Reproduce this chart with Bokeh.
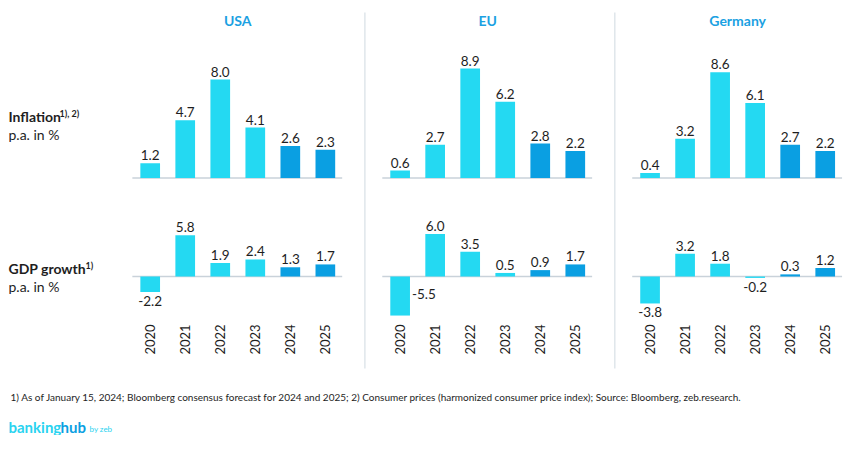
import math
from bokeh.plotting import figure
from bokeh.models import Range1d
from bokeh.core.properties import value
from bokeh.embed import file_html
from bokeh.resources import INLINE

# ---------------- data ----------------
years = ["2020", "2021", "2022", "2023", "2024", "2025"]
forecast_years = ["2024", "2025"]
countries = ["USA", "EU", "Germany"]
inflation_usa = [1.2, 4.7, 8.0, 4.1, 2.6, 2.3]
inflation_eu = [0.6, 2.7, 8.9, 6.2, 2.8, 2.2]
inflation_de = [0.4, 3.2, 8.6, 6.1, 2.7, 2.2]
gdp_usa = [-2.2, 5.8, 1.9, 2.4, 1.3, 1.7]
gdp_eu = [-5.5, 6.0, 3.5, 0.5, 0.9, 1.7]
gdp_de = [-3.8, 3.2, 1.8, -0.2, 0.3, 1.2]
row_labels = ["Inflation", "GDP growth"]
row_notes = ["1), 2)", "1)"]
row_units = "p.a. in %"
footnote = ("1) As of January 15, 2024; Bloomberg consensus forecast for 2024 and 2025; "
            "2) Consumer prices (harmonized consumer price index); Source: Bloomberg, zeb.research.")

inflation = [inflation_usa, inflation_eu, inflation_de]
gdp = [gdp_usa, gdp_eu, gdp_de]

# ---------------- styling / layout ----------------
W, H = 846, 435
S = 0.984                 # slight horizontal compression so all fits
UX = 35.6 * S             # px per bar slot
X0 = -(8 + 144 * S) / UX  # data x at left of frame
UYI = 12.3                # px per inflation pp
YI0 = -(H - 177.5) / UYI
UYG = 7.1                 # px per GDP pp
YG0 = -(H - 276) / UYG
PANEL = 254 / 35.6
BAR_W = 20 / 35.6
FONT = value("Lato")
C_LIGHT = "#24D9F2"
C_DARK = "#0A9FE2"
C_TITLE = "#1BA1E2"
C_TEXT = "#1e1e1e"
C_LINE = "#c9d2da"


def px_x(ix):
    return X0 + ix / UX


def px_yi(iy):
    return YI0 + (H - iy) / UYI


def px_yg(iy):
    return YG0 + (H - iy) / UYG


p = figure(width=W, height=H, output_backend="svg", toolbar_location=None,
           x_range=Range1d(X0, X0 + W / UX), y_range=Range1d(YI0, YI0 + H / UYI),
           x_axis_location=None, y_axis_location=None, min_border=0)
p.extra_y_ranges = {"gdp": Range1d(YG0, YG0 + H / UYG)}
p.grid.visible = False
p.outline_line_color = None
p.background_fill_color = "white"
p.border_fill_color = "white"

# dividers
for k in range(2):
    xd = k * PANEL + 6.13
    p.segment(x0=[xd], y0=[px_yi(12)], x1=[xd], y1=[px_yi(368)],
              line_color="#cfd9e0", line_width=1)

for k, country in enumerate(countries):
    off = k * PANEL
    xs = [off + i for i in range(len(years))]
    cols = [C_DARK if y in forecast_years else C_LIGHT for y in years]

    # title
    p.text(x=[off + 2.5], y=[px_yi(20)], text=[country], text_font=FONT,
           text_font_size="14px", text_font_style="bold", text_color=C_TITLE,
           text_align="center", text_baseline="middle")

    for rng, vals, uy in ((None, inflation[k], UYI), ("gdp", gdp[k], UYG)):
        kw = {} if rng is None else {"y_range_name": rng}
        # baseline
        p.segment(x0=[off - BAR_W / 2 - 8 / UX], y0=[0], x1=[off + 5 + BAR_W / 2 + 7 / UX], y1=[0],
                  line_color=C_LINE, line_width=1.5, **kw)
        p.vbar(x=xs, top=vals, bottom=0, width=BAR_W, fill_color=cols,
               line_color=None, **kw)
        # value labels
        pos_x, pos_y, pos_t = [], [], []
        neg_x, neg_y, neg_t = [], [], []
        side_x, side_y, side_t = [], [], []
        for x, v in zip(xs, vals):
            t = f"{v:.1f}"
            if v >= 0:
                pos_x.append(x); pos_y.append(v + 3 / uy); pos_t.append(t)
            elif v < -5:
                side_x.append(x + BAR_W / 2 + 2 / UX); side_y.append(-17 / uy); side_t.append(t)
            else:
                neg_x.append(x); neg_y.append(v - 4 / uy); neg_t.append(t)
        common = dict(text_font=FONT, text_font_size="13.5px", text_color=C_TEXT, **kw)
        if pos_x:
            p.text(x=pos_x, y=pos_y, text=pos_t, text_align="center", text_baseline="bottom", **common)
        if neg_x:
            p.text(x=neg_x, y=neg_y, text=neg_t, text_align="center", text_baseline="top", **common)
        if side_x:
            p.text(x=side_x, y=side_y, text=side_t, text_align="left", text_baseline="middle", **common)

    # year labels
    p.text(x=xs, y=[px_yg(354)] * len(xs), text=years, y_range_name="gdp",
           angle=math.pi / 2, text_align="left", text_baseline="middle",
           text_font=FONT, text_font_size="13px", text_color=C_TEXT)

# left row labels
lab_y = [116, 268]
unit_y = [134, 286]
note_x = [59, 85]
for r in range(2):
    p.text(x=[px_x(8)], y=[px_yi(lab_y[r])], text=[row_labels[r]], text_font=FONT,
           text_font_size="14px", text_font_style="bold", text_color=C_TEXT,
           text_align="left", text_baseline="middle")
    p.text(x=[px_x(note_x[r])], y=[px_yi(lab_y[r] - 3)], text=[row_notes[r]], text_font=FONT,
           text_font_size="9px", text_font_style="bold", text_color=C_TEXT,
           text_align="left", text_baseline="middle")
    p.text(x=[px_x(8)], y=[px_yi(unit_y[r])], text=[row_units], text_font=FONT,
           text_font_size="14px", text_color=C_TEXT,
           text_align="left", text_baseline="middle")

# footnote
p.text(x=[px_x(10)], y=[px_yi(396)], text=[footnote], text_font=FONT,
       text_font_size="10px", text_color=C_TEXT, text_align="left", text_baseline="middle")

# logo
p.text(x=[px_x(8)], y=[px_yi(435)], text=["banking"], text_font=FONT,
       text_font_size="15px", text_font_style="bold", text_color="#2AD3F0",
       text_align="left", text_baseline="bottom")
p.text(x=[px_x(60)], y=[px_yi(435)], text=["hub"], text_font=FONT,
       text_font_size="15px", text_font_style="bold", text_color=C_DARK,
       text_align="left", text_baseline="bottom")
p.text(x=[px_x(89)], y=[px_yi(433)], text=["by zeb"], text_font=FONT,
       text_font_size="8px", text_color="#2AD3F0",
       text_align="left", text_baseline="bottom")

open("out.html", "w").write(file_html(p, INLINE))
